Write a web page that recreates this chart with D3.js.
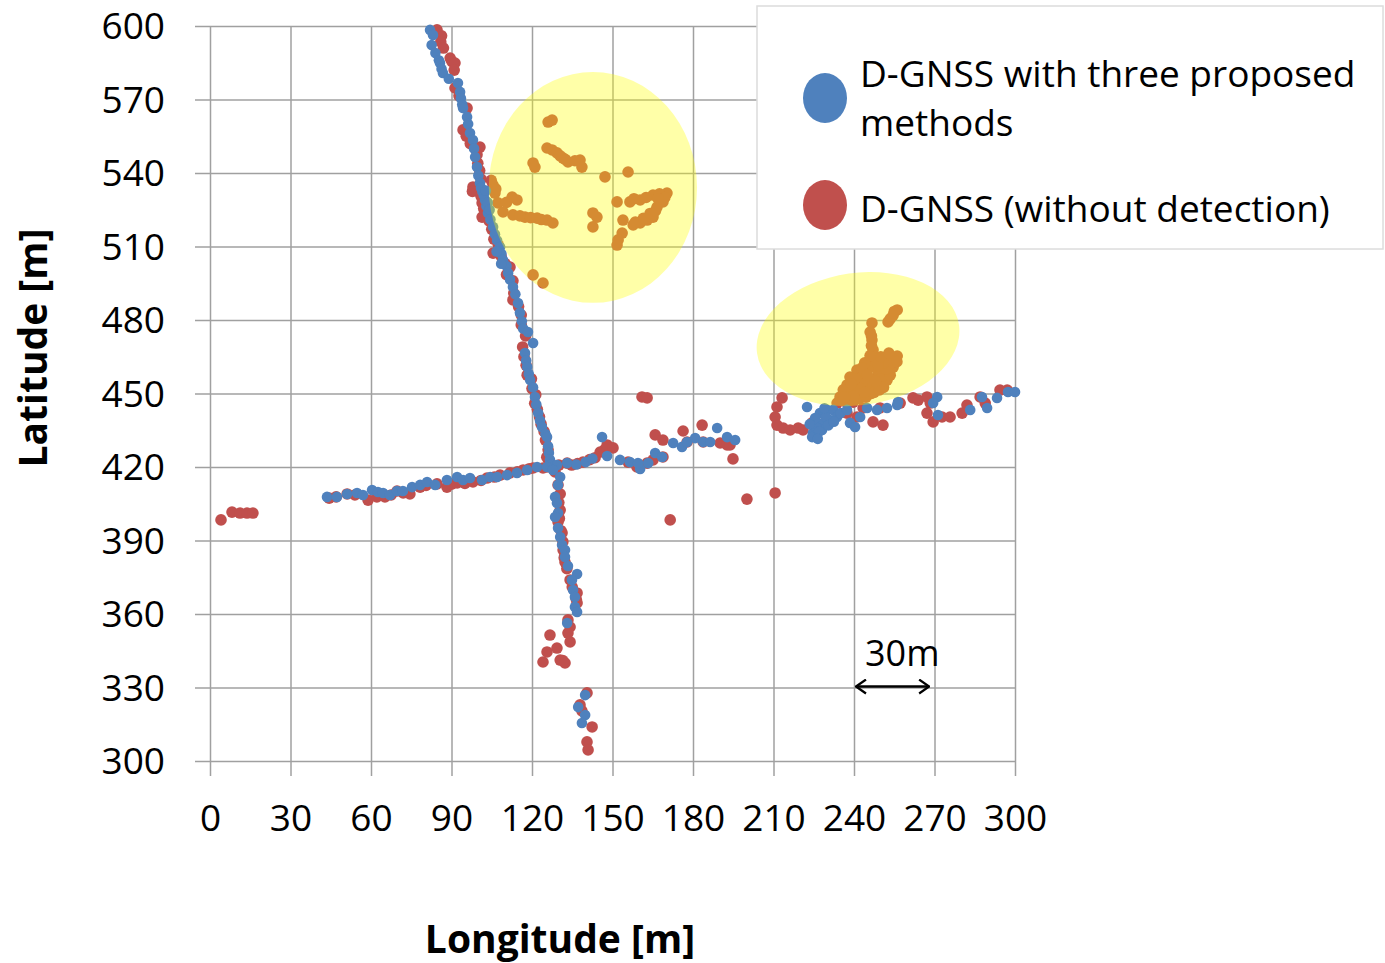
<!DOCTYPE html>
<html>
<head>
<meta charset="utf-8">
<title>D-GNSS track</title>
<style>
  body { margin: 0; background: #fff; }
  text { font-family: "Open Sans", sans-serif; fill: #000; }
</style>
</head>
<body>
<script src="https://cdn.jsdelivr.net/npm/d3@7"></script>
<script>
// ticks
var xTicks = [0, 30, 60, 90, 120, 150, 180, 210, 240, 270, 300];
var yTicks = [300, 330, 360, 390, 420, 450, 480, 510, 540, 570, 600];

var seriesNames = ["D-GNSS with three proposed methods", "D-GNSS (without detection)"];
var seriesColors = ["#4f81bd", "#c0504d"];

// D-GNSS with three proposed methods  [longitude, latitude]
var bluePts = [
  // north leg
  [82.0,598.4],[83.1,596.3],[82.6,592.2],[84.0,589.0],[85.3,586.0],[85.7,584.9],[86.3,582.5],[86.8,580.8],
  [89.0,578.5],[92.4,576.7],[93.2,573.1],[93.5,570.5],[94.0,568.0],[94.3,566.5],[95.8,562.9],[96.2,560.0],
  [96.9,556.3],[98.0,553.5],[98.4,550.0],[98.8,546.5],[99.5,542.4],[100.0,539.0],[100.6,535.9],[101.5,532.5],
  [102.5,529.0],[103.0,526.5],[103.6,523.7],[104.5,521.0],[105.5,518.0],[106.2,515.0],[107.0,512.5],[108.1,509.8],
  [108.6,507.0],[109.2,504.5],[110.5,502.0],[111.1,499.2],[111.8,496.5],[112.9,493.5],[113.8,490.5],[114.8,486.9],
  [115.5,483.0],[116.2,479.5],[116.7,476.5],[118.5,475.1],[120.4,470.6],[117.4,466.5],[117.8,463.5],[118.2,460.8],
  [118.8,458.0],[119.3,455.5],[120.4,452.5],[121.1,448.6],[121.6,445.5],[122.3,442.0],[123.0,439.0],[123.7,436.3],
  [125.0,433.5],[125.6,432.2],[126.0,428.5],[126.3,425.7],[126.7,423.0],[126.7,420.8],
  [101.0,534.0],[102.0,531.0],[103.5,528.0],[102.8,532.8],[104.2,525.0],[106.8,508.0],[108.5,503.0],
  // west leg
  [43.6,407.8],[47.3,407.8],[51.1,409.0],[54.8,409.4],[57.0,408.6],[60.4,410.6],[62.6,409.8],[64.5,409.4],
  [67.1,408.6],[69.7,410.2],[71.9,410.2],[75.3,411.8],[78.3,412.7],[80.9,413.9],[83.9,412.7],[88.3,414.7],
  [92.1,415.9],[94.3,414.7],[96.9,415.5],[101.4,414.7],[104.4,415.9],[107.0,415.9],[110.7,416.7],[114.4,417.6],
  [118.2,418.8],[121.9,420.0],[125.6,420.0],[129.3,420.8],[133.1,421.6],
  // east of the crossing
  [136.5,421.0],[140.0,422.0],[142.5,423.5],[146.1,432.2],[148.0,424.5],[152.8,422.9],[156.5,422.0],[160.3,419.2],
  [159.5,421.6],[163.3,421.6],[165.9,425.7],[168.5,424.1],[172.6,429.8],[175.9,428.2],[177.8,430.2],[180.8,431.8],
  [183.8,430.2],[186.4,430.2],[189.0,435.9],[192.7,432.2],[195.7,431.0],
  // south leg
  [127.8,418.8],[130.5,415.9],[129.7,412.7],[128.6,407.8],[129.3,405.3],[129.7,401.2],[128.6,399.6],[129.7,395.1],
  [130.5,391.4],[131.2,388.2],[132.3,386.1],[132.3,383.3],[133.4,379.6],[136.8,376.3],[134.9,373.9],[135.3,369.8],
  [136.0,366.9],[136.0,362.9],[136.8,360.8],[133.1,356.3],[139.8,326.9],[137.2,322.0],[139.8,318.8],[138.6,315.5],
  // east cluster
  [222.5,444.5],[227.3,442.0],[230.0,443.3],[232.2,443.3],[226.2,438.0],[228.5,438.0],[231.1,439.2],[233.7,440.4],
  [224.7,433.9],[228.1,435.1],[224.4,432.2],[226.0,436.0],[229.5,440.5],[225.5,440.0],[227.0,434.5],[230.5,437.0],
  [223.5,437.5],[226.5,431.5],[232.5,438.5],[229.0,444.0],[235.0,442.0],
  [237.4,443.3],[238.5,438.0],[240.4,436.3],[242.3,440.4],[244.9,444.1],[248.6,443.3],[252.3,444.1],[256.1,445.3],
  [256.4,446.5],[271.0,448.6],[269.5,446.1],[271.3,441.2],[283.3,443.3],[287.7,448.6],[289.6,444.1],[293.3,448.2],
  [297.4,450.6],[300.0,450.6]
];

// D-GNSS (without detection)  [longitude, latitude]
var redPts = [
  // north leg
  [84.6,598.4],[86.3,596.0],[86.0,593.5],[87.0,591.0],[89.5,586.9],[90.2,585.5],[91.3,584.9],[91.0,582.0],
  [91.3,574.7],[92.8,571.5],[95.8,566.5],[94.3,557.6],[95.5,555.0],[97.0,552.0],[100.6,550.6],[99.5,547.5],
  [99.8,544.0],[100.5,541.0],[101.0,537.5],[98.0,534.3],[97.8,532.5],[101.0,530.5],[101.4,527.8],[102.0,525.5],
  [101.4,522.0],[104.0,520.5],[105.0,517.0],[105.8,513.0],[107.5,510.5],[105.5,507.3],[108.5,506.0],[110.0,503.0],
  [111.8,501.6],[110.5,498.5],[112.9,496.0],[112.9,488.2],[113.2,491.0],[115.0,485.5],[116.0,482.0],[116.0,478.0],
  [117.6,473.5],[116.5,469.0],[117.0,465.0],[117.8,461.5],[118.2,457.5],[119.8,456.0],[120.0,452.0],[121.4,449.5],
  [121.0,446.0],[122.0,443.5],[122.8,440.5],[123.4,437.5],[124.5,434.5],[125.0,431.0],[126.0,427.0],[125.5,424.0],
  [126.5,422.0],
  // west leg
  [4.1,398.4],[8.2,401.6],[11.2,401.2],[13.8,401.2],[16.0,401.2],[44.4,407.3],[47.0,407.8],[51.1,409.0],
  [54.0,408.6],[58.9,406.5],[62.2,407.8],[65.2,407.8],[67.5,408.6],[69.7,410.2],[72.0,409.4],[74.5,409.0],
  [78.3,411.8],[80.5,412.5],[84.6,413.1],[88.3,411.8],[90.0,413.0],[92.1,413.5],[95.0,413.3],[98.0,413.9],
  [101.0,414.5],[103.2,415.5],[106.0,415.9],[108.1,416.7],[111.8,417.6],[114.5,418.0],[116.7,418.8],[119.0,419.3],
  [120.4,419.6],[124.1,419.6],[125.6,420.0],[127.8,420.4],[130.0,420.8],[133.1,421.6],
  // east of the crossing
  [134.8,420.8],[137.0,421.4],[139.0,422.0],[141.5,423.0],[143.5,423.8],[145.4,426.1],[147.0,427.0],[148.0,429.0],
  [150.2,427.8],[155.8,422.0],[159.1,420.0],[162.9,421.6],[165.1,422.9],[168.8,424.1],[161.0,448.6],[162.9,448.2],
  [165.9,433.1],[168.8,431.0],[171.5,398.4],[176.3,434.7],[177.8,430.2],[183.4,437.1],[183.8,430.2],[190.1,429.8],
  [192.7,429.0],[193.8,429.0],[194.9,423.3],[200.1,406.9],[210.6,409.4],
  // south leg
  [128.6,418.0],[129.7,412.7],[130.5,409.0],[130.0,405.5],[130.5,402.4],[130.2,399.0],[129.7,397.6],[130.8,394.0],
  [131.2,393.1],[131.5,389.5],[131.6,386.1],[132.0,383.0],[132.3,381.2],[133.0,378.5],[134.2,373.9],[135.0,371.0],
  [136.8,368.6],[136.5,366.0],[136.8,364.5],[133.4,357.6],[134.2,354.7],[133.4,352.2],[134.2,348.6],[126.7,351.4],
  [129.3,346.1],[125.6,344.5],[124.1,340.4],[130.5,341.2],[131.5,341.0],[132.3,340.0],[140.5,327.8],[137.9,322.9],
  [138.6,320.5],[142.4,313.9],[140.5,307.8],[140.9,304.5],
  // east cluster
  [213.2,448.2],[211.3,444.5],[210.6,440.4],[211.3,437.1],[213.6,435.9],[216.2,435.1],[219.2,435.9],[221.0,435.1],
  [224.4,438.0],[237.4,442.0],[241.1,440.4],[243.4,444.1],[247.1,438.4],[250.8,437.1],[249.7,444.1],[257.2,446.1],
  [262.0,448.2],[263.9,447.3],[267.2,448.6],[268.4,446.1],[267.2,442.0],[269.5,438.4],[272.8,440.4],[275.8,440.4],
  [280.3,442.0],[282.1,445.3],[287.0,448.6],[288.9,446.1],[294.4,451.4],[297.1,451.4]
];

// outliers of the red series, under the yellow highlights
var redOutliers = [
  [126.0,560.8],[127.5,561.6],[125.6,550.2],[127.5,549.4],[129.3,548.2],[131.6,546.1],[133.4,544.5],[137.9,545.3],
  [138.6,542.4],[120.4,544.1],[121.1,542.4],[147.2,538.4],[155.8,540.4],[105.5,535.1],[106.2,531.8],[112.6,530.2],
  [114.4,529.0],[107.3,527.8],[109.2,524.1],[112.9,522.9],[117.4,522.0],[121.9,521.6],[125.6,520.8],[127.8,519.6],
  [142.7,523.7],[144.2,522.0],[142.7,518.0],[151.7,528.2],[156.5,528.2],[160.3,529.0],[165.1,531.0],[170.3,531.8],
  [168.8,528.2],[166.6,526.1],[165.1,522.0],[162.9,520.8],[160.3,519.6],[157.7,518.8],[153.9,520.8],[153.6,515.5],
  [152.1,512.7],[151.7,510.6],[120.4,498.4],[124.1,495.1],
  [130.5,547.0],[132.5,545.5],[136.0,545.0],[110.5,528.0],[115.5,522.5],[119.5,521.8],[123.5,521.0],
  [158.0,529.5],[162.5,530.0],[167.5,531.5],[169.5,530.0],[167.0,529.5],[158.5,520.0],[161.5,521.5],[164.0,523.5],
  [166.0,524.5],[104.8,537.0],[106.5,533.5],
  [256.1,484.1],[254.6,482.0],[252.7,479.2],[246.7,478.8],[246.0,475.1],[246.7,471.8],[247.1,467.8],[247.9,463.7],
  [256.1,465.3],[252.3,463.7],[254.6,460.8],[250.8,459.6],[248.6,456.7],[244.9,459.6],[241.1,459.6],[238.5,456.7],
  [237.4,453.5],[241.1,454.3],[244.9,452.7],[248.6,453.5],[252.3,455.5],[242.3,450.2],[238.5,450.2],[234.8,448.6],
  [233.7,446.1],[239.7,446.5],[237.4,446.1],[249.0,458.8],[243.0,457.0],[245.5,455.0],[240.0,452.0],[236.0,451.5],
  [250.0,456.0],[247.0,461.0],[244.0,462.5],[243.0,454.0],[246.5,450.0],[251.0,452.5],
  [239.0,448.0],[242.0,448.0],[244.5,448.5],[247.5,450.5],[249.5,451.5],[253.5,457.5],[246.0,465.5],[246.5,469.5],
  [246.5,473.5],[255.0,483.5],[253.5,480.5],[243.0,460.5],[240.5,456.0],[245.0,457.5],[248.0,455.0],
  [252.0,460.0],[254.0,462.5],[256.0,463.0],[251.0,462.5],[249.0,461.5],[240.0,449.0],[242.5,452.0],[244.0,450.5],
  [236.5,448.5],[250.0,465.0],[253.0,466.5],[239.0,454.0]
];

// yellow highlight ellipses: centre, radii (data units), rotation
var highlights = [
  { cx: 142.7, cy: 534.1, rx: 38.8, ry: 47.1, rot: 0 },
  { cx: 241.5, cy: 472.2, rx: 38.0, ry: 27.0, rot: -8 }
];

var scaleBar = { x0: 240, x1: 268, y: 330, label: "30m" };

var width = 1385, height = 963;

var x = d3.scaleLinear().domain([0, 300]).range([210, 1015]);
var y = d3.scaleLinear().domain([300, 600]).range([761, 26]);

var svg = d3.select("body").append("svg")
    .attr("width", width)
    .attr("height", height);

svg.append("rect").attr("width", width).attr("height", height).attr("fill", "#fff");

var defs = svg.append("defs");
defs.append("filter").attr("id", "soft")
    .append("feGaussianBlur").attr("stdDeviation", 0.6);

var arrow = defs.append("marker")
    .attr("id", "chev")
    .attr("viewBox", "0 0 12 16")
    .attr("refX", 11).attr("refY", 8)
    .attr("markerWidth", 12).attr("markerHeight", 16)
    .attr("markerUnits", "userSpaceOnUse")
    .attr("orient", "auto-start-reverse");
arrow.append("path").attr("d", "M1,1 L11,8 L1,15")
    .attr("fill", "none").attr("stroke", "#000").attr("stroke-width", 2.2);

// gridlines via the axes, ticks poke 15px outside the plot
var gridColor = "#a0a0a0";

var yAxis = svg.append("g")
    .attr("transform", "translate(195,0)")
    .call(d3.axisLeft(y).tickValues(yTicks).tickSize(-(1015 - 195)).tickPadding(30).tickSizeOuter(0));
yAxis.select(".domain").remove();

var xAxis = svg.append("g")
    .attr("transform", "translate(0,776)")
    .call(d3.axisBottom(x).tickValues(xTicks).tickSize(-(776 - 26)).tickPadding(29).tickSizeOuter(0));
xAxis.select(".domain").remove();

svg.selectAll(".tick line").attr("stroke", gridColor).attr("stroke-width", 1.5);
svg.selectAll(".tick text")
    .attr("font-family", "'Open Sans', sans-serif")
    .attr("font-size", 37)
    .attr("fill", "#000");
yAxis.selectAll(".tick text").attr("dy", "0.34em");

// points: red first, blue on top
var dots = svg.append("g").attr("filter", "url(#soft)");

dots.append("g").selectAll("circle")
    .data(redPts.concat(redOutliers))
    .enter().append("circle")
    .attr("cx", function(d) { return x(d[0]); })
    .attr("cy", function(d) { return y(d[1]); })
    .attr("r", 5.8)
    .attr("fill", seriesColors[1]);

dots.append("g").selectAll("circle")
    .data(bluePts)
    .enter().append("circle")
    .attr("cx", function(d) { return x(d[0]); })
    .attr("cy", function(d) { return y(d[1]); })
    .attr("r", 5.3)
    .attr("fill", seriesColors[0]);

// translucent yellow highlights over the points
svg.append("g").selectAll("ellipse")
    .data(highlights)
    .enter().append("ellipse")
    .attr("transform", function(d) { return "translate(" + x(d.cx) + "," + y(d.cy) + ") rotate(" + d.rot + ")"; })
    .attr("rx", function(d) { return x(d.rx) - x(0); })
    .attr("ry", function(d) { return y(300) - y(d.ry + 300); })
    .attr("fill", "#ffff00")
    .attr("fill-opacity", 0.34);

// 30 m scale bar
svg.append("line")
    .attr("x1", x(scaleBar.x0) + 2).attr("x2", x(scaleBar.x1))
    .attr("y1", y(scaleBar.y) - 1).attr("y2", y(scaleBar.y) - 1)
    .attr("stroke", "#000").attr("stroke-width", 2.5)
    .attr("marker-start", "url(#chev)")
    .attr("marker-end", "url(#chev)");
svg.append("text")
    .attr("x", x(scaleBar.x0) + 11).attr("y", y(scaleBar.y) - 22)
    .attr("font-size", 36)
    .text(scaleBar.label);

// axis titles
svg.append("text")
    .attr("x", 560).attr("y", 953)
    .attr("text-anchor", "middle")
    .attr("font-size", 39).attr("font-weight", "bold")
    .text("Longitude [m]");
svg.append("text")
    .attr("transform", "translate(47,348) rotate(-90)")
    .attr("text-anchor", "middle")
    .attr("font-size", 39).attr("font-weight", "bold")
    .text("Latitude [m]");

// legend
var legend = svg.append("g");
legend.append("rect")
    .attr("x", 757).attr("y", 6).attr("width", 626).attr("height", 243)
    .attr("fill", "#fff").attr("stroke", "#dcdcdc").attr("stroke-width", 1.5);
legend.append("ellipse").attr("cx", 825).attr("cy", 98).attr("rx", 22).attr("ry", 25).attr("fill", seriesColors[0]);
legend.append("ellipse").attr("cx", 825).attr("cy", 205).attr("rx", 22).attr("ry", 25).attr("fill", seriesColors[1]);
legend.append("text").attr("x", 860).attr("y", 87).attr("font-size", 37).text("D-GNSS with three proposed");
legend.append("text").attr("x", 860).attr("y", 136).attr("font-size", 37).text("methods");
legend.append("text").attr("x", 860).attr("y", 222).attr("font-size", 37).text(seriesNames[1]);
</script>
</body>
</html>
